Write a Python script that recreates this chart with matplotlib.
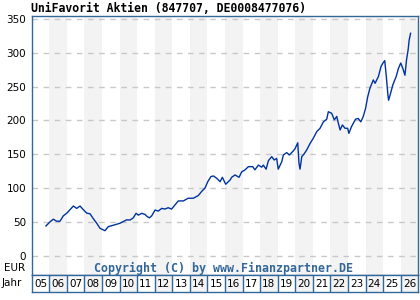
#!/bin/env python3
import numpy as np
import matplotlib
matplotlib.use('Agg')
import matplotlib.pyplot as plt

# price series (decimal year, EUR)
years = [2005.81, 2006.04, 2006.23, 2006.42, 2006.61, 2006.8, 2007.0, 2007.18, 2007.37,
         2007.56, 2007.75, 2007.94, 2008.13, 2008.32, 2008.5, 2008.7, 2008.89, 2009.17,
         2009.36, 2009.64, 2010.02, 2010.4, 2010.6, 2010.78, 2010.94, 2011.07, 2011.26,
         2011.45, 2011.58, 2011.7, 2011.83, 2012.02, 2012.2, 2012.4, 2012.58, 2012.77,
         2012.96, 2013.15, 2013.34, 2013.63, 2013.9, 2014.2, 2014.48, 2014.67, 2014.86,
         2015.02, 2015.2, 2015.34, 2015.53, 2015.72, 2015.85, 2016.04, 2016.29, 2016.38,
         2016.57, 2016.8, 2016.95, 2017.14, 2017.33, 2017.58, 2017.7, 2017.9, 2018.09,
         2018.18, 2018.34, 2018.47, 2018.66, 2018.8, 2018.94, 2019.03, 2019.23, 2019.32,
         2019.51, 2019.66, 2019.85, 2019.98, 2020.14, 2020.21, 2020.27, 2020.37, 2020.5,
         2020.65, 2020.84, 2021.03, 2021.22, 2021.41, 2021.6, 2021.79, 2021.88, 2022.07,
         2022.22, 2022.36, 2022.45, 2022.55, 2022.68, 2022.83, 2022.98, 2023.05, 2023.2,
         2023.43, 2023.58, 2023.73, 2023.87, 2024.0, 2024.12, 2024.25, 2024.44, 2024.54,
         2024.73, 2024.88, 2024.99, 2025.09, 2025.18, 2025.27, 2025.31, 2025.42, 2025.55,
         2025.74, 2025.87, 2026.0, 2026.12, 2026.24, 2026.33, 2026.42, 2026.48, 2026.56]
prices = [44, 50, 54, 51, 51, 59, 63, 68, 73.5,
          70, 73.5, 68, 63, 62, 55, 48, 40.5, 37,
          43, 45, 48, 53, 52.8, 56, 62.7, 60, 62.7,
          61, 57.7, 56, 59, 67.6, 66, 70, 69, 71,
          69, 75, 81, 81, 85, 85, 89, 95, 100,
          109.5, 117, 118, 114.5, 109.5, 116, 105.7, 112, 116,
          119.4, 116, 124, 127, 131.7, 131.7, 127, 134, 131,
          134, 128, 140.6, 146.5, 141.6, 144, 128, 139, 149,
          152.5, 149, 154, 158, 167, 136.7, 128, 146.5, 150.5,
          156.5, 166, 174, 183.5, 188.5, 198, 202, 213, 210.7,
          201, 206, 196, 186, 193.4, 188.5, 188.5, 181, 191,
          202, 203, 198, 206, 218, 235, 248, 260, 255,
          265, 280, 285, 288.6, 265, 238, 230, 240, 252.6,
          265, 277, 285, 277, 267, 289.6, 304.4, 319, 329]

year_labels = ['05', '06', '07', '08', '09', '10', '11', '12', '13', '14', '15',
               '16', '17', '18', '19', '20', '21', '22', '23', '24', '25', '26']
y_ticks = [50, 100, 150, 200, 250, 300, 350]

frame = '#336699'
band = '#f3f3f3'
mono = 'DejaVu Sans Mono'

fig = plt.figure(figsize=(4.2, 3.0), dpi=100)

# pixel helpers
def box(x0, y0, x1, y1):
    return [x0 / 420, 1 - y1 / 300, (x1 - x0) / 420, (y1 - y0) / 300]

ax = fig.add_axes(box(31.7, 15.5, 418.3, 275))
ax.set_xlim(2005, 2027)
ax.set_ylim((255.7 - 275) / 0.676, (255.7 - 15.5) / 0.676)

for i, lab in enumerate(year_labels):
    if i % 2 == 1:
        ax.axvspan(2005 + i, 2006 + i, color=band, lw=0, zorder=0)

for v in [0] + y_ticks:
    ax.axhline(v, color='#c8c8c8', lw=1, ls=(0, (4, 4)), zorder=1)

ax.plot(years, prices, color='#0033a0', lw=1.0, zorder=3)

ax.set_xticks([])
ax.set_yticks([0] + y_ticks)
ax.set_yticklabels(['0'] + [str(v) for v in y_ticks], fontsize=7.5)
ax.tick_params(axis='y', length=0, pad=4)
for s in ax.spines.values():
    s.set_color(frame)
    s.set_linewidth(1)

ax.text(0.497, 0.027, 'Copyright (C) by www.Finanzpartner.DE', transform=ax.transAxes,
        ha='center', va='center', fontsize=8.4, fontweight='bold', family=mono,
        color='#336699')

# year row
ay = fig.add_axes(box(31.7, 275, 418.3, 292))
ay.set_xlim(2005, 2027)
ay.set_ylim(0, 1)
ay.set_xticks([])
ay.set_yticks([])
for s in ay.spines.values():
    s.set_color(frame)
    s.set_linewidth(1)
for i, lab in enumerate(year_labels):
    if i % 2 == 1:
        ay.axvspan(2005 + i, 2006 + i, color=band, lw=0, zorder=0)
    if i > 0:
        ay.axvline(2005 + i, color=frame, lw=1)
    ay.text(2005.5 + i, 0.45, lab, ha='center', va='center', fontsize=7.5)

fig.text(2 / 420, 1 - 283.5 / 300, 'Jahr', ha='left', va='center', fontsize=7.5)
fig.text(25 / 420, 1 - 268 / 300, 'EUR', ha='right', va='center', fontsize=7.5)
fig.text(31 / 420, 1 - 12.5 / 300, 'UniFavorit Aktien (847707, DE0008477076)',
         ha='left', va='baseline', fontsize=8.3, fontweight='bold', family=mono)

fig.savefig('out.png', dpi=100)
